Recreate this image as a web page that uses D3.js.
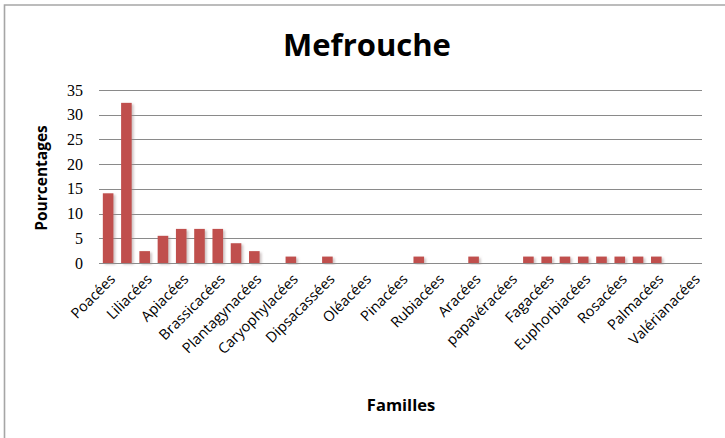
<!DOCTYPE html>
<html>
<head>
<meta charset="utf-8">
<script src="https://cdn.jsdelivr.net/npm/d3@7"></script>
<style>
  html, body { margin: 0; padding: 0; background: #fff; }
  svg { display: block; }
</style>
</head>
<body>
<svg id="chart" width="725" height="438"></svg>
<script>
// Families in axis order; the axis only prints every second name,
// so the unprinted ones are left blank.
const families = [
  "Poacées", "", "Liliacées", "", "Apiacées", "", "Brassicacées", "",
  "Plantagynacées", "", "Caryophylacées", "", "Dipsacassées", "", "Oléacées", "",
  "Pinacées", "", "Rubiacées", "", "Aracées", "", "papavéracées", "",
  "Fagacées", "", "Euphorbiacées", "", "Rosacées", "", "Palmacées", "",
  "Valérianacées"
];
// Percentage of species per family
const percentages = [
  14.1, 32.4, 2.4, 5.5, 6.9, 6.9, 6.9, 4.0,
  2.4, 0, 1.3, 0, 1.3, 0, 0, 0,
  0, 1.3, 0, 0, 1.3, 0, 0, 1.3,
  1.3, 1.3, 1.3, 1.3, 1.3, 1.3, 1.3, 0,
  0
];
const yTicks = [0, 5, 10, 15, 20, 25, 30, 35];

const title = "Mefrouche";
const xTitle = "Familles";
const yTitle = "Pourcentages";

const svg = d3.select("#chart");
const W = 725, H = 438;
const plot = { left: 99, right: 702, top: 90, bottom: 263 };

// outer chart frame (only top and left edges fall inside the view)
svg.append("path")
  .attr("d", `M4.5,${H + 2}V5H${W + 2}`)
  .attr("fill", "none")
  .attr("stroke", "#a6a6a6")
  .attr("stroke-width", 1.6);

const defs = svg.append("defs");
const shadow = defs.append("filter").attr("id", "barShadow")
  .attr("x", "-50%").attr("y", "-20%").attr("width", "200%").attr("height", "140%");
shadow.append("feDropShadow")
  .attr("dx", 2).attr("dy", 1.5).attr("stdDeviation", 1.2)
  .attr("flood-color", "#a08c8c").attr("flood-opacity", 0.5);

const x = d3.scaleBand()
  .domain(d3.range(families.length))
  .range([plot.left, plot.right])
  .paddingInner(0.42)
  .paddingOuter(0.21);

const y = d3.scaleLinear()
  .domain([0, 35])
  .range([plot.bottom, plot.top]);

// horizontal gridlines (the 0 line doubles as the category axis)
svg.append("g")
  .selectAll("line")
  .data(yTicks)
  .join("line")
  .attr("x1", plot.left).attr("x2", plot.right)
  .attr("y1", d => Math.round(y(d)) + 0.5)
  .attr("y2", d => Math.round(y(d)) + 0.5)
  .attr("stroke", "#8a8a8a")
  .attr("stroke-width", 1);

// value axis labels
const yAxis = d3.axisLeft(y).tickValues(yTicks).tickSize(0).tickPadding(16);
const gy = svg.append("g")
  .attr("transform", `translate(${plot.left},0)`)
  .call(yAxis);
gy.select(".domain").remove();
gy.selectAll("text")
  .attr("font-family", "'Liberation Serif', 'DejaVu Serif', serif")
  .attr("font-size", 16)
  .attr("fill", "#000");

// bars
svg.append("g")
  .selectAll("rect")
  .data(percentages.map((v, i) => ({ i, v })).filter(d => d.v > 0))
  .join("rect")
  .attr("x", d => x(d.i))
  .attr("width", x.bandwidth())
  .attr("y", d => y(d.v))
  .attr("height", d => y(0) - y(d.v))
  .attr("fill", "#c0504d")
  .attr("filter", "url(#barShadow)");

// category labels, rotated 45 degrees
const xAxis = d3.axisBottom(x)
  .tickValues(d3.range(families.length).filter(i => families[i] !== ""))
  .tickFormat(i => families[i])
  .tickSize(0);
const gx = svg.append("g")
  .attr("transform", `translate(0,${plot.bottom})`)
  .call(xAxis);
gx.select(".domain").remove();
gx.selectAll("text")
  .attr("font-family", "'Open Sans', sans-serif")
  .attr("font-size", 14.5)
  .attr("fill", "#000")
  .attr("text-anchor", "end")
  .attr("dy", 0)
  .attr("transform", "translate(6,15) rotate(-45)");

// titles
svg.append("text")
  .attr("x", 367).attr("y", 56)
  .attr("text-anchor", "middle")
  .attr("font-family", "'Open Sans', sans-serif")
  .attr("font-weight", "bold")
  .attr("font-size", 31)
  .text(title);

svg.append("text")
  .attr("x", 401).attr("y", 411)
  .attr("text-anchor", "middle")
  .attr("font-family", "'Open Sans', sans-serif")
  .attr("font-weight", "bold")
  .attr("font-size", 16.5)
  .text(xTitle);

svg.append("text")
  .attr("transform", "translate(47,178) rotate(-90)")
  .attr("text-anchor", "middle")
  .attr("font-family", "'Open Sans', sans-serif")
  .attr("font-weight", "bold")
  .attr("font-size", 15.5)
  .text(yTitle);
</script>
</body>
</html>
